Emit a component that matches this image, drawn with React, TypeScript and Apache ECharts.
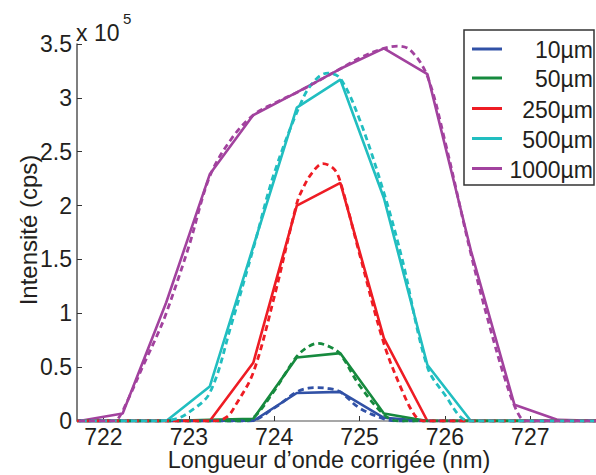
import React, { useEffect, useRef } from 'react';
import * as echarts from 'echarts';

const FONT = '"Liberation Sans", Arial, Helvetica, sans-serif';
const TEXT = '#231f20';

// wavelengths of the measured points (nm)
const wavelengths = [721.715, 722.225, 722.735, 723.245, 723.755, 724.265, 724.775, 725.285, 725.795, 726.305, 726.815, 727.325, 727.835];

const seriesNames = ['10µm', '50µm', '250µm', '500µm', '1000µm'];
const colors = ['#3151a6', '#168a3e', '#ee1c24', '#21bec0', '#a2429e'];

// measured intensity (x 10^5 cps)
const measured10 = [0, 0, 0, 0, 0, 0.26, 0.27, 0.03, 0, 0, 0, 0, 0];
const measured50 = [0, 0, 0, 0.01, 0.02, 0.59, 0.63, 0.07, 0, 0, 0, 0, 0];
const measured250 = [0, 0, 0, 0, 0.54, 2.0, 2.21, 0.77, 0, 0, 0, 0, 0];
const measured500 = [0, 0, 0, 0.32, 1.62, 2.91, 3.17, 2.07, 0.52, 0, 0, 0, 0];
const measured1000 = [0, 0.07, 1.1, 2.29, 2.84, 3.05, 3.27, 3.46, 3.22, 1.58, 0.15, 0.01, 0];

// fitted curves (dashed)
const fit10X = [721.69, 723.7, 724.0, 724.265, 724.4, 724.5, 724.65, 724.775, 725.0, 725.285, 725.45, 727.77];
const fit10Y = [0, 0, 0.12, 0.27, 0.305, 0.31, 0.3, 0.27, 0.12, 0.02, 0, 0];
const fit50X = [721.69, 723.6, 723.755, 724.0, 724.265, 724.4, 724.51, 724.65, 724.775, 725.0, 725.285, 725.45, 727.77];
const fit50Y = [0, 0, 0.03, 0.28, 0.6, 0.69, 0.72, 0.69, 0.62, 0.33, 0.06, 0, 0];
const fit250X = [721.69, 723.3, 723.45, 723.55, 723.755, 724.0, 724.265, 724.33, 724.44, 724.57, 724.7, 724.775, 725.0, 725.285, 725.5, 725.65, 725.75, 727.77];
const fit250Y = [0, 0, 0.04, 0.15, 0.45, 1.15, 2.02, 2.15, 2.3, 2.39, 2.34, 2.22, 1.55, 0.72, 0.28, 0.05, 0, 0];
const fit500X = [721.69, 722.6, 722.85, 723.0, 723.245, 723.5, 723.755, 724.0, 724.34, 724.5, 724.63, 724.775, 725.0, 725.285, 725.5, 725.795, 726.02, 726.18, 726.3, 727.77];
const fit500Y = [0, 0, 0.02, 0.08, 0.26, 0.9, 1.6, 2.3, 3.0, 3.18, 3.23, 3.18, 2.8, 2.12, 1.5, 0.5, 0.22, 0.04, 0, 0];
const fit1000X = [721.69, 722.1, 722.17, 722.3, 722.48, 722.62, 722.735, 723.0, 723.245, 723.5, 723.755, 724.0, 724.265, 724.5, 724.775, 725.0, 725.285, 725.45, 725.6, 725.795, 726.0, 726.305, 726.5, 726.7, 726.85, 726.95, 727.77];
const fit1000Y = [0, 0, 0.02, 0.22, 0.54, 0.78, 1.0, 1.62, 2.27, 2.62, 2.84, 2.95, 3.05, 3.15, 3.27, 3.37, 3.46, 3.48, 3.44, 3.2, 2.6, 1.55, 0.95, 0.4, 0.08, 0, 0];

const yTicks = [0, 0.5, 1, 1.5, 2, 2.5, 3, 3.5];
const xAxisTitle = 'Longueur d’onde corrigée (nm)';
const yAxisTitle = 'Intensité (cps)';

const measured = [measured10, measured50, measured250, measured500, measured1000];
const fitsX = [fit10X, fit50X, fit250X, fit500X, fit1000X];
const fitsY = [fit10Y, fit50Y, fit250Y, fit500Y, fit1000Y];

const legendRowsY = [49, 78, 108.5, 138.5, 168.5];

function buildOption() {
  const solid = measured.map((vals, i) => ({
    name: seriesNames[i],
    type: 'line',
    data: wavelengths.map((w, j) => [w, vals[j]]),
    showSymbol: false,
    symbol: 'none',
    lineStyle: { color: colors[i], width: 2.6 },
    itemStyle: { color: colors[i] },
    z: 2,
  }));
  const dashed = fitsX.map((xs, i) => ({
    name: seriesNames[i] + ' fit',
    type: 'line',
    data: xs.map((x, j) => [x, fitsY[i][j]]),
    showSymbol: false,
    symbol: 'none',
    smooth: 0.35,
    lineStyle: { color: colors[i], width: 2.8, type: [6, 4], dashOffset: i * 2 },
    itemStyle: { color: colors[i] },
    z: 3,
  }));

  const legendGraphics: any[] = [
    {
      type: 'rect',
      shape: { x: 464, y: 30, width: 130, height: 155 },
      style: { fill: '#ffffff', stroke: '#333333', lineWidth: 1.5 },
      z: 100,
    },
  ];
  seriesNames.forEach((name, i) => {
    legendGraphics.push({
      type: 'line',
      shape: { x1: 472, y1: legendRowsY[i], x2: 502, y2: legendRowsY[i] },
      style: { stroke: colors[i], lineWidth: 3 },
      z: 101,
    });
    legendGraphics.push({
      type: 'text',
      x: 593,
      y: legendRowsY[i] + 1,
      style: {
        text: name,
        fill: TEXT,
        fontSize: 23,
        fontFamily: FONT,
        align: 'right',
        verticalAlign: 'middle',
      },
      z: 101,
    });
  });

  return {
    animation: false,
    backgroundColor: '#ffffff',
    grid: { left: 77, right: 0, top: 44, bottom: 54, containLabel: false },
    xAxis: {
      type: 'value',
      min: 721.69,
      max: 727.77,
      splitLine: { show: false },
      axisLine: { show: true, lineStyle: { color: '#8a8a8a', width: 1.5 } },
      axisTick: { show: true, inside: true, length: 5, lineStyle: { color: '#333', width: 1 } },
      axisLabel: {
        show: true,
        margin: 4,
        fontSize: 23,
        fontFamily: FONT,
        color: TEXT,
        showMinLabel: false,
        showMaxLabel: false,
        formatter: (v: number) => (Math.abs(v - Math.round(v)) < 1e-6 ? String(Math.round(v)) : ''),
      },
    },
    yAxis: {
      type: 'value',
      min: yTicks[0],
      max: yTicks[yTicks.length - 1],
      interval: 0.5,
      splitLine: { show: false },
      axisLine: { show: true, lineStyle: { color: '#555', width: 1.5 } },
      axisTick: { show: true, inside: true, length: 5, lineStyle: { color: '#333', width: 1 } },
      axisLabel: {
        margin: 5,
        fontSize: 23,
        fontFamily: FONT,
        color: TEXT,
        formatter: (v: number) => String(v),
      },
    },
    series: [...solid, ...dashed],
    graphic: [
      {
        type: 'text',
        x: 76,
        y: 32.5,
        style: { text: 'x 10', fill: TEXT, fontSize: 23, fontFamily: FONT, align: 'left', verticalAlign: 'middle' },
      },
      {
        type: 'text',
        x: 123,
        y: 18.5,
        style: { text: '5', fill: TEXT, fontSize: 15, fontFamily: FONT, align: 'left', verticalAlign: 'middle' },
      },
      {
        type: 'text',
        x: 329,
        y: 460,
        style: { text: xAxisTitle, fill: TEXT, fontSize: 23.5, fontFamily: FONT, align: 'center', verticalAlign: 'middle' },
      },
      {
        type: 'text',
        x: 28,
        y: 230,
        rotation: Math.PI / 2,
        style: { text: yAxisTitle, fill: TEXT, fontSize: 24, fontFamily: FONT, align: 'center', verticalAlign: 'middle' },
      },
      ...legendGraphics,
    ],
  };
}

export default function App() {
  const ref = useRef<HTMLDivElement>(null);
  useEffect(() => {
    if (!ref.current) return;
    const chart = echarts.init(ref.current, null, { renderer: 'svg' });
    chart.setOption(buildOption() as any);
    return () => chart.dispose();
  }, []);
  return (
    <div
      ref={ref}
      style={{ position: 'absolute', left: 0, top: 0, width: 596, height: 475, background: '#fff' }}
    />
  );
}
